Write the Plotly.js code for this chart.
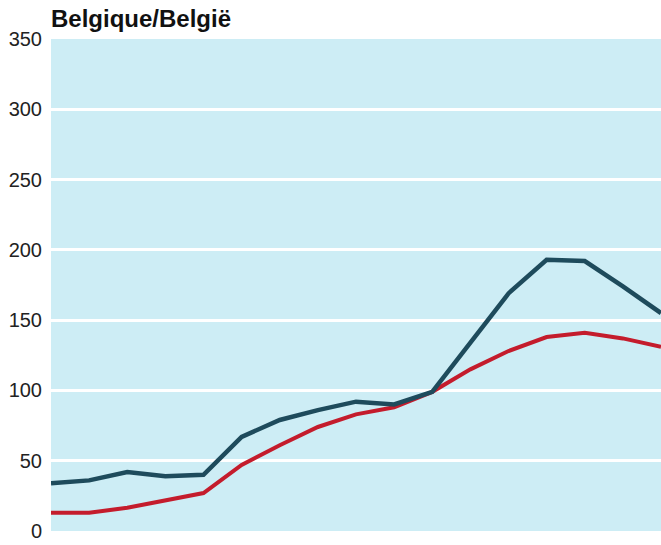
<!DOCTYPE html>
<html>
<head>
<meta charset="utf-8">
<script src="https://cdn.plot.ly/plotly-3.0.1.min.js"></script>
<style>html,body{margin:0;padding:0;background:#fff;}#chart{width:661px;height:545px;}</style>
</head>
<body>
<div id="chart"></div>
<script>
const years = [1970,1971,1972,1973,1974,1975,1976,1977,1978,1979,1980,1981,1982,1983,1984,1985,1986];
const seriesBlue = [34,36,42,39,40,67,79,86,92,90,99,134,169,193,192,174,155];
const seriesRed  = [13,13,16.5,22,27,47,61,74,83,88,99,115,128,138,141,137,131];
const yTicks = [0,50,100,150,200,250,300,350];

const traces = [
  {x: years, y: seriesRed, type:'scatter', mode:'lines', line:{color:'#c41c2c', width:4}, hoverinfo:'skip'},
  {x: years, y: seriesBlue, type:'scatter', mode:'lines', line:{color:'#1e4b5c', width:4.5}, hoverinfo:'skip'}
];

const layout = {
  width:661, height:545,
  margin:{l:51, r:0, t:39, b:14},
  paper_bgcolor:'#ffffff',
  plot_bgcolor:'#cdedf5',
  showlegend:false,
  title:{text:'<b>Belgique/België</b>', x:51/661, xref:'container', xanchor:'left', y:1-19/545, yref:'container', yanchor:'middle',
         font:{family:'Liberation Sans, Arial, sans-serif', size:24, color:'#111'}},
  xaxis:{range:[years[0], years[years.length-1]], showgrid:false, zeroline:false, showticklabels:false, ticks:'', showline:false, fixedrange:true},
  yaxis:{range:[0,350], tickvals:yTicks, ticktext:yTicks.map(String), showgrid:true, gridcolor:'#ffffff', gridwidth:3,
         zeroline:false, showline:false, ticks:'', ticklabelstandoff:8,
         tickfont:{family:'Liberation Sans, Arial, sans-serif', size:20, color:'#222'}, fixedrange:true}
};

Plotly.newPlot('chart', traces, layout, {displayModeBar:false, staticPlot:true});
</script>
</body>
</html>
